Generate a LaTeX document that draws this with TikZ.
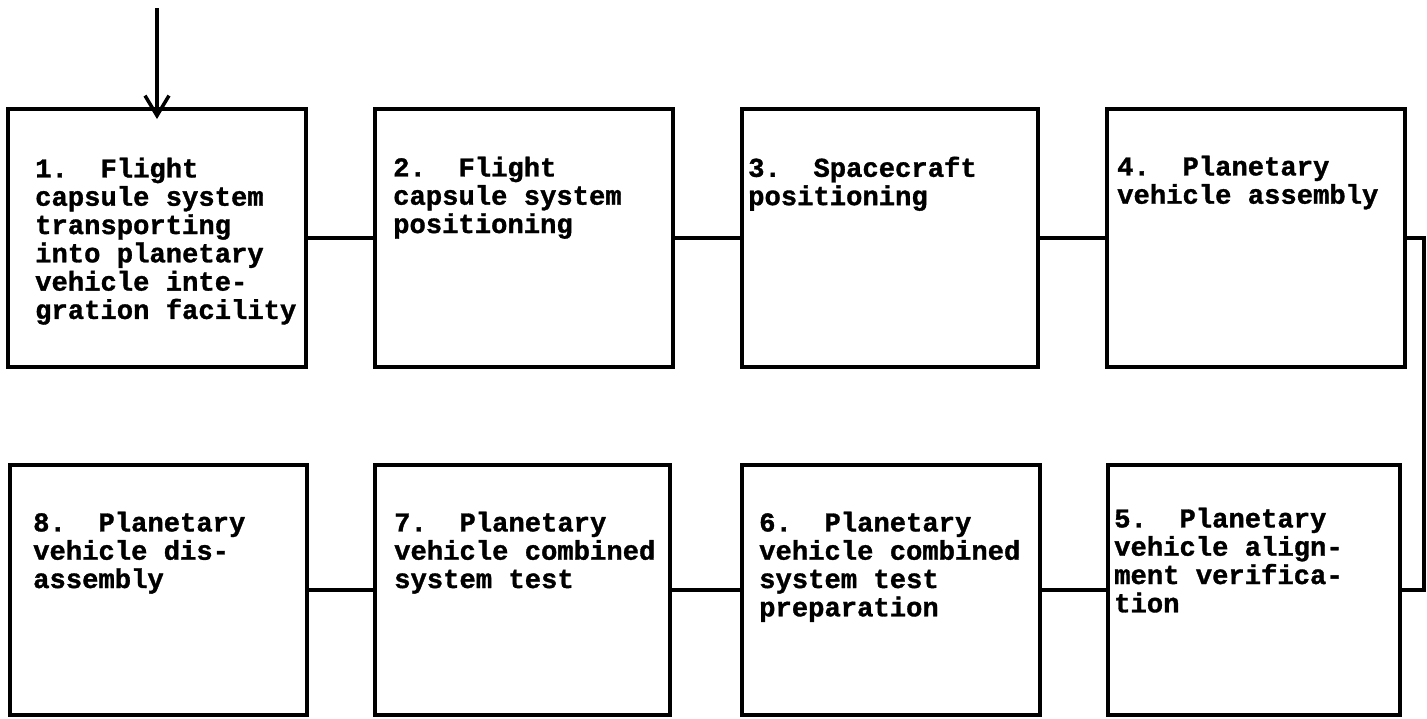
\documentclass[tikz,border=0pt]{standalone}
\usepackage{fontspec}
\newfontfamily\tw{Liberation Mono}[BoldFeatures={FakeBold=1.2}]
\usetikzlibrary{arrows.meta}
\frenchspacing
\begin{document}
\begin{tikzpicture}[x=1pt,y=-1pt,
  box/.style={draw, line width=4.5pt, rectangle, inner sep=0pt, outer sep=0pt},
  lbl/.style={font=\tw\bfseries\fontsize{27.2pt}{28.3pt}\selectfont, align=left, inner sep=0pt, anchor=north west},
  conn/.style={line width=4pt},
]
\useasboundingbox[fill=white] (0,0) rectangle (1427,718);
% top row
\node[box, minimum width=298pt, minimum height=258pt] (b1) at (157,238) {};
\node[box, minimum width=298pt, minimum height=258pt] (b2) at (524,238) {};
\node[box, minimum width=296pt, minimum height=258pt] (b3) at (890,238) {};
\node[box, minimum width=298pt, minimum height=258pt] (b4) at (1256,238) {};
% bottom row
\node[box, minimum width=292pt, minimum height=250pt] (b5) at (1254,590) {};
\node[box, minimum width=298pt, minimum height=250pt] (b6) at (891,590) {};
\node[box, minimum width=295pt, minimum height=250pt] (b7) at (522.5,590) {};
\node[box, minimum width=297pt, minimum height=250pt] (b8) at (158.5,590) {};
% texts (north = first baseline - 18.5)
\node[lbl] (t1) at (35,157.5) {\rule{0pt}{18.5pt}1.\ \ Flight\\capsule system\\transporting\\into planetary\\vehicle inte-\\gration facility};
\node[lbl] (t2) at (393,156.5) {\rule{0pt}{18.5pt}2.\ \ Flight\\capsule system\\positioning};
\node[lbl] (t3) at (748,156.5) {\rule{0pt}{18.5pt}3.\ \ Spacecraft\\positioning};
\node[lbl] (t4) at (1117,155.5) {\rule{0pt}{18.5pt}4.\ \ Planetary\\vehicle assembly};
\node[lbl] (t5) at (1114,507.5) {\rule{0pt}{18.5pt}5.\ \ Planetary\\vehicle align-\\ment verifica-\\tion};
\node[lbl] (t6) at (759,511.5) {\rule{0pt}{18.5pt}6.\ \ Planetary\\vehicle combined\\system test\\preparation};
\node[lbl] (t7) at (394,511.5) {\rule{0pt}{18.5pt}7.\ \ Planetary\\vehicle combined\\system test};
\node[lbl] (t8) at (33,511.5) {\rule{0pt}{18.5pt}8.\ \ Planetary\\vehicle dis-\\assembly};
% input arrow
\coordinate (in) at (157,8);
\draw[conn] (in) -- (b1.north);
\draw[conn, -{Straight Barb[length=20pt,width=24pt,line width=3.5pt]}] (in) -- ([yshift=-10pt]b1.north);
% connectors
\draw[conn] (b1.east) -- (b2.west);
\draw[conn] (b2.east) -- (b3.west);
\draw[conn] (b3.east) -- (b4.west);
\draw[conn] (b4.east) -- ++(19,0) |- (b5.east);
\draw[conn] (b5.west) -- (b6.east);
\draw[conn] (b6.west) -- (b7.east);
\draw[conn] (b7.west) -- (b8.east);
\end{tikzpicture}
\end{document}
